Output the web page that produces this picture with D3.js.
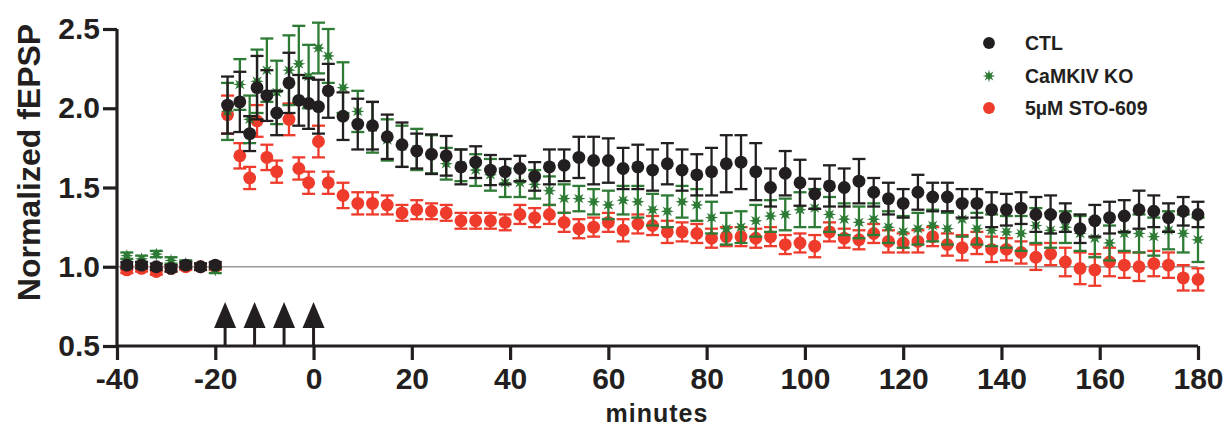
<!DOCTYPE html>
<html>
<head>
<meta charset="utf-8">
<script src="https://cdn.jsdelivr.net/npm/d3@7"></script>
<style>
  html, body { margin: 0; padding: 0; background: #fff; }
  svg text { font-family: "Liberation Sans", Arial, Helvetica, sans-serif; font-weight: bold; fill: #231f20; }
</style>
</head>
<body>
<svg id="chart" width="1229" height="427"></svg>
<script>
// ---------------- DATA ----------------
const times = [-38,-35,-32,-29,-26,-23,-20,
  -17.5,-15,-13,-11.5,-9.5,-7.5,-5,-3,-1,1,3,
  6,9,12,15,18,21,24,27,30,33,36,39,42,45,48,51,54,57,60,63,
  66,69,72,75,78,81,84,87,90,93,96,99,102,105,108,111,114,117,120,123,
  126,129,132,135,138,141,144,147,150,153,156,159,162,165,168,171,174,177,180];

const ctlMean = [1.01,1.01,1.00,0.99,1.01,1.00,1.01,
  2.02,2.04,1.84,2.13,2.08,1.97,2.16,2.05,2.03,2.01,2.11,
  1.95,1.90,1.89,1.82,1.77,1.73,1.71,1.70,1.63,1.66,1.61,1.60,1.62,1.57,1.63,1.64,1.69,1.67,1.67,1.62,
  1.63,1.61,1.65,1.61,1.58,1.60,1.65,1.66,1.60,1.50,1.59,1.53,1.46,1.51,1.50,1.54,1.47,1.43,1.40,1.47,
  1.44,1.44,1.40,1.40,1.36,1.36,1.37,1.33,1.33,1.31,1.24,1.29,1.31,1.32,1.36,1.35,1.31,1.35,1.33];
const ctlSem = [0.02,0.02,0.02,0.02,0.02,0.02,0.02,
  0.18,0.19,0.11,0.20,0.16,0.14,0.19,0.16,0.16,0.17,0.17,
  0.15,0.16,0.15,0.14,0.14,0.11,0.125,0.125,0.11,0.10,0.095,0.08,0.08,0.09,0.11,0.10,0.13,0.15,0.14,0.13,
  0.14,0.13,0.13,0.13,0.13,0.15,0.18,0.17,0.18,0.12,0.14,0.145,0.095,0.13,0.12,0.14,0.09,0.10,0.09,0.11,
  0.09,0.09,0.09,0.09,0.11,0.10,0.10,0.11,0.12,0.09,0.09,0.10,0.10,0.10,0.12,0.10,0.09,0.09,0.08];

const koMean = [1.07,1.05,1.08,1.04,1.02,1.00,0.98,
  1.98,2.15,1.93,2.17,2.24,2.10,2.24,2.28,2.20,2.38,2.33,
  2.13,1.98,1.88,1.80,1.76,1.74,1.71,1.65,1.64,1.61,1.58,1.53,1.53,1.52,1.48,1.43,1.43,1.41,1.39,1.42,
  1.41,1.36,1.35,1.41,1.39,1.31,1.24,1.25,1.29,1.32,1.33,1.36,1.37,1.33,1.30,1.28,1.30,1.25,1.22,1.24,
  1.26,1.24,1.30,1.24,1.23,1.22,1.21,1.26,1.23,1.25,1.21,1.18,1.15,1.21,1.21,1.19,1.23,1.21,1.17];
const koSem = [0.02,0.02,0.02,0.02,0.02,0.02,0.02,
  0.18,0.16,0.15,0.20,0.20,0.20,0.22,0.24,0.20,0.16,0.17,
  0.16,0.13,0.16,0.13,0.13,0.13,0.12,0.10,0.10,0.10,0.10,0.09,0.09,0.09,0.09,0.09,0.08,0.08,0.09,0.09,
  0.10,0.10,0.10,0.10,0.10,0.10,0.10,0.10,0.10,0.10,0.10,0.11,0.12,0.11,0.10,0.10,0.10,0.10,0.10,0.10,
  0.10,0.10,0.11,0.10,0.10,0.10,0.11,0.11,0.11,0.10,0.11,0.12,0.11,0.11,0.12,0.12,0.12,0.12,0.14];

const stoMean = [0.98,0.99,0.97,0.99,1.00,1.00,1.00,
  1.96,1.70,1.56,1.92,1.69,1.60,1.93,1.62,1.53,1.79,1.53,
  1.45,1.40,1.40,1.39,1.34,1.36,1.35,1.34,1.29,1.29,1.29,1.28,1.33,1.31,1.33,1.28,1.24,1.25,1.28,1.23,
  1.27,1.26,1.22,1.22,1.21,1.18,1.19,1.19,1.18,1.19,1.14,1.15,1.13,1.22,1.18,1.17,1.21,1.16,1.15,1.16,
  1.19,1.14,1.12,1.15,1.11,1.11,1.09,1.06,1.08,1.03,0.99,0.98,1.03,1.01,1.00,1.02,1.01,0.93,0.92];
const stoSem = [0.02,0.02,0.02,0.02,0.02,0.02,0.02,
  0.12,0.08,0.07,0.10,0.08,0.07,0.10,0.07,0.07,0.10,0.07,
  0.08,0.07,0.07,0.06,0.05,0.06,0.05,0.05,0.05,0.05,0.05,0.05,0.06,0.06,0.06,0.06,0.06,0.06,0.06,0.07,
  0.06,0.06,0.07,0.06,0.06,0.06,0.06,0.06,0.06,0.06,0.06,0.06,0.07,0.06,0.06,0.06,0.06,0.07,0.06,0.07,
  0.06,0.07,0.08,0.07,0.08,0.07,0.07,0.08,0.07,0.09,0.10,0.10,0.09,0.08,0.09,0.08,0.08,0.08,0.07];

const tetanusTimes = [-18, -12, -6, 0];
const xTicks = [-40,-20,0,20,40,60,80,100,120,140,160,180];
const yTicks = [0.5,1.0,1.5,2.0,2.5];
const seriesNames = ["CTL", "CaMKIV KO", "5\u00B5M STO-609"];

// ---------------- CHART ----------------
const svg = d3.select("#chart");
const x = d3.scaleLinear().domain([-40, 180]).range([117, 1198]);
const y = d3.scaleLinear().domain([0.5, 2.5]).range([346, 29]);

const colors = { ctl: "#231f20", ko: "#2e7b36", sto: "#ee3b2b" };

// 8-point star symbol
const star8 = {
  draw(ctx, size) {
    const r = Math.sqrt(size) * 0.62, ri = r * 0.45;
    for (let i = 0; i < 16; i++) {
      const a = i * Math.PI / 8 - Math.PI / 2;
      const rr = i % 2 ? ri : r;
      if (i === 0) ctx.moveTo(rr * Math.cos(a), rr * Math.sin(a));
      else ctx.lineTo(rr * Math.cos(a), rr * Math.sin(a));
    }
    ctx.closePath();
  }
};

// reference line at 1.0
svg.append("line")
  .attr("x1", x(-40)).attr("x2", x(180))
  .attr("y1", y(1.0)).attr("y2", y(1.0))
  .attr("stroke", "#9a9a9a").attr("stroke-width", 1.5);

const series = [
  { key: "sto", mean: stoMean, sem: stoSem, symbol: d3.symbolCircle, size: 130 },
  { key: "ko", mean: koMean, sem: koSem, symbol: star8, size: 115 },
  { key: "ctl", mean: ctlMean, sem: ctlSem, symbol: d3.symbolCircle, size: 130 }
];

series.forEach(s => {
  const g = svg.append("g").attr("class", "series-" + s.key);
  const data = times.map((t, i) => ({ t, m: s.mean[i], e: s.sem[i] }));
  const col = colors[s.key];
  const cap = 6.5;
  const eb = g.selectAll("g.eb").data(data).join("g").attr("class", "eb")
    .attr("stroke", col).attr("stroke-width", 2.3);
  eb.append("line")
    .attr("x1", d => x(d.t)).attr("x2", d => x(d.t))
    .attr("y1", d => y(d.m + d.e)).attr("y2", d => y(d.m - d.e));
  eb.append("line")
    .attr("x1", d => x(d.t) - cap).attr("x2", d => x(d.t) + cap)
    .attr("y1", d => y(d.m + d.e)).attr("y2", d => y(d.m + d.e));
  eb.append("line")
    .attr("x1", d => x(d.t) - cap).attr("x2", d => x(d.t) + cap)
    .attr("y1", d => y(d.m - d.e)).attr("y2", d => y(d.m - d.e));
  g.selectAll("path.pt").data(data).join("path").attr("class", "pt")
    .attr("d", d3.symbol().type(s.symbol).size(s.size))
    .attr("transform", d => `translate(${x(d.t)},${y(d.m)})`)
    .attr("fill", col);
});

// axes
const xAxis = svg.append("g").attr("transform", `translate(0,${y(0.5)})`)
  .call(d3.axisBottom(x).tickValues(xTicks).tickFormat(d3.format("d")).tickSize(14).tickPadding(8));
const yAxis = svg.append("g").attr("transform", `translate(${x(-40)},0)`)
  .call(d3.axisLeft(y).tickValues(yTicks).tickFormat(d3.format(".1f")).tickSize(14).tickPadding(3));
[xAxis, yAxis].forEach(a => {
  a.select(".domain").attr("stroke", "#231f20").attr("stroke-width", 3.2)
    .attr("d", a === xAxis ? `M${x(-40)},0H${x(180)}` : `M0,${y(2.5)}V${y(0.5)}`);
  a.selectAll(".tick line").attr("stroke", "#231f20").attr("stroke-width", 3.2);
  a.selectAll(".tick text").attr("fill", "#231f20").style("font-size", "30px")
    .style("font-family", '"Liberation Sans", Arial, sans-serif').style("font-weight", "bold");
});
xAxis.selectAll(".tick text").text(d => d < 0 ? "-" + Math.abs(d) : d);

// tetanus arrows
const arrows = svg.append("g").attr("fill", "#231f20").attr("stroke", "#231f20");
tetanusTimes.forEach(t => {
  const cx = x(t);
  arrows.append("line").attr("x1", cx).attr("x2", cx).attr("y1", y(0.5) - 1).attr("y2", y(0.5) - 20)
    .attr("stroke-width", 3);
  arrows.append("path")
    .attr("d", `M${cx - 11},${y(0.5) - 18}L${cx + 11},${y(0.5) - 18}L${cx},${y(0.5) - 44}Z`)
    .attr("stroke", "none");
});

// axis titles
svg.append("text")
  .attr("transform", `translate(40,${y(1.5) - 25}) rotate(-90)`)
  .attr("text-anchor", "middle")
  .style("font-size", "32px")
  .text("Normalized fEPSP");
svg.append("text")
  .attr("x", 657).attr("y", 422)
  .attr("text-anchor", "middle")
  .style("font-size", "25px")
  .style("letter-spacing", "1px")
  .text("minutes");

// legend
const legend = svg.append("g");
const legendItems = [
  { name: seriesNames[0], key: "ctl", symbol: d3.symbolCircle, size: 110, y: 43 },
  { name: seriesNames[1], key: "ko", symbol: star8, size: 100, y: 76 },
  { name: seriesNames[2], key: "sto", symbol: d3.symbolCircle, size: 110, y: 108 }
];
legendItems.forEach(it => {
  legend.append("path")
    .attr("d", d3.symbol().type(it.symbol).size(it.size))
    .attr("transform", `translate(989,${it.y})`)
    .attr("fill", colors[it.key]);
  legend.append("text")
    .attr("x", 1025).attr("y", it.y).attr("dy", "0.36em")
    .style("font-size", "19.5px")
    .text(it.name);
});
</script>
</body>
</html>
